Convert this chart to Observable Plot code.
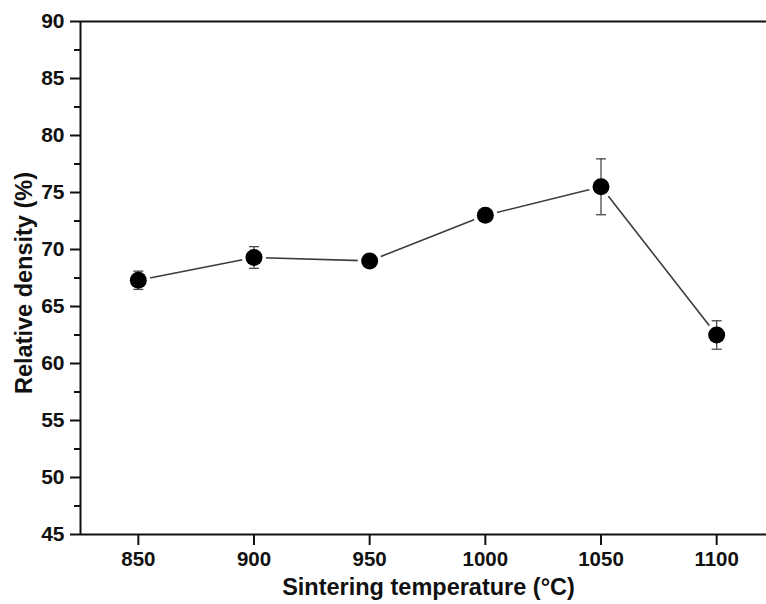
<!DOCTYPE html>
<html>
<head>
<meta charset="utf-8">
<script src="https://cdn.jsdelivr.net/npm/d3@7"></script>
<script src="https://cdn.jsdelivr.net/npm/@observablehq/plot@0.6"></script>
<style>
  html, body { margin: 0; padding: 0; background: #fff; overflow: hidden; }
  #chart { width: 766px; height: 604px; overflow: hidden; }
</style>
</head>
<body>
<div id="chart"></div>
<script>
// Sintering temperature (°C) and measured relative density (%) with error
const temperatures = [850, 900, 950, 1000, 1050, 1100];
const density = [67.3, 69.3, 69.0, 73.0, 75.5, 62.5];
const densityError = [0.8, 0.95, 0.25, 0.25, 2.45, 1.25];

// Axis ticks
const xTicks = [850, 900, 950, 1000, 1050, 1100];
const yTicks = [45, 50, 55, 60, 65, 70, 75, 80, 85, 90];
const yMinorTicks = [47.5, 52.5, 57.5, 62.5, 67.5, 72.5, 77.5, 82.5, 87.5];

const xTitle = "Sintering temperature (°C)";
const yTitle = "Relative density (%)";

const rows = temperatures.map((t, i) => ({
  t,
  d: density[i],
  lo: density[i] - densityError[i],
  hi: density[i] + densityError[i]
}));

// horizontal cap used at the ends of the error bars
const cap = {
  draw(context, size) {
    const w = Math.sqrt(size / Math.PI);
    context.moveTo(-w, 0);
    context.lineTo(w, 0);
  }
};

const font = "'Liberation Sans', Arial, Helvetica, sans-serif";
const ink = "#111";
const plain = d => String(d);

const chart = Plot.plot({
  width: 766,
  height: 604,
  marginLeft: 80,
  marginTop: 21,
  marginBottom: 70,
  marginRight: 0,
  style: { fontFamily: font, background: "#fff", color: ink },
  x: { domain: [825, 1125], range: [80, 774] },
  y: { domain: [45, 90], range: [534, 21] },
  marks: [
    // frame: left, bottom and top edges
    Plot.ruleX([825], { stroke: ink, strokeWidth: 2 }),
    Plot.ruleY([45, 90], { stroke: ink, strokeWidth: 2 }),

    Plot.axisY(yTicks, {
      tickSize: 10, tickPadding: 6, strokeWidth: 2, tickFormat: plain,
      fontSize: 21, fontWeight: "bold", fill: ink, stroke: ink, label: null
    }),
    Plot.axisY(yMinorTicks, {
      tickSize: 6, strokeWidth: 2, tickFormat: () => "", stroke: ink, label: null
    }),
    Plot.axisX(xTicks, {
      tickSize: 11, tickPadding: 6, strokeWidth: 2, tickFormat: plain,
      fontSize: 20.5, fontWeight: "bold", fill: ink, stroke: ink, label: null
    }),

    // connecting line
    Plot.line(rows, { x: "t", y: "d", stroke: "#3c3c3c", strokeWidth: 1.6 }),
    // white halo leaves a small gap between line and markers
    Plot.dot(rows, { x: "t", y: "d", r: 12, fill: "#fff", stroke: "none" }),

    // error bars
    Plot.ruleX(rows, { x: "t", y1: "lo", y2: "hi", stroke: "#4a4a4a", strokeWidth: 1.3 }),
    Plot.dot(rows, { x: "t", y: "lo", symbol: cap, r: 5, stroke: "#4a4a4a", strokeWidth: 1.3, fill: "none" }),
    Plot.dot(rows, { x: "t", y: "hi", symbol: cap, r: 5, stroke: "#4a4a4a", strokeWidth: 1.3, fill: "none" }),

    // markers
    Plot.dot(rows, { x: "t", y: "d", r: 8.5, fill: "#000", stroke: "none" }),

    // axis titles
    Plot.text([xTitle], {
      text: d => d, frameAnchor: "bottom", dx: 5, dy: 53, textAnchor: "middle",
      fontSize: 23.5, fontWeight: "bold", fill: ink, lineAnchor: "middle"
    }),
    Plot.text([yTitle], {
      text: d => d, frameAnchor: "left", dx: -56, dy: 5, rotate: -90, textAnchor: "middle",
      fontSize: 23.5, fontWeight: "bold", fill: ink, lineAnchor: "middle"
    })
  ]
});

document.getElementById("chart").append(chart);
</script>
</body>
</html>
